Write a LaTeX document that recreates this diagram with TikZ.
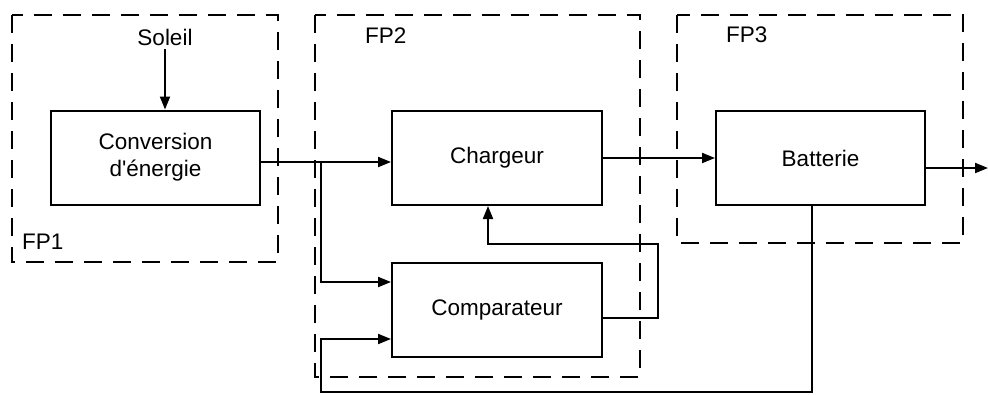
\documentclass[tikz,border=0pt]{standalone}
\usepackage{fontspec}
\setmainfont{Liberation Sans}
\usetikzlibrary{arrows.meta}
\begin{document}
\begin{tikzpicture}[x=1pt,y=-1pt,
  blk/.style={draw,line width=2pt,rectangle,inner sep=0pt,minimum height=94pt,font=\fontsize{22.5}{26}\selectfont},
  grp/.style={draw,line width=2.5pt,dash pattern=on 18pt off 11pt},
  lab/.style={font=\fontsize{22.5}{26}\selectfont,inner sep=0pt},
  wire/.style={line width=2pt},
  arr/.style={wire,-{Triangle[length=13pt,width=10pt]}}]
\useasboundingbox (0,0) rectangle (988,394);
% groups
\draw[grp] (12,15) rectangle (278,262);
\draw[grp] (315,15) rectangle (640,377);
\draw[grp] (677,15) rectangle (963,243);
\node[lab,anchor=west] (fp1) at (22,242) {FP1};
\node[lab,anchor=west] (fp2) at (365,36) {FP2};
\node[lab,anchor=west] (fp3) at (726,35) {FP3};
% blocks
\node[lab] (soleil) at (165,37) {Soleil};
\node[blk,minimum width=209pt,align=center] (conv) at (155.5,157.5) {Conversion\\[1pt]d\textquotesingle énergie};
\node[blk,minimum width=210pt] (charg) at (497,158) {Chargeur};
\node[blk,minimum width=210pt] (comp) at (497,310) {Comparateur};
\node[blk,minimum width=209pt] (batt) at (820.5,158) {Batterie};
% coordinates
\coordinate (j1) at (321,162);
\coordinate (fb) at (658,244);
\coordinate (bl) at (321,392);
\coordinate (bout) at (988,168);
% connectors
\draw[arr] ([yshift=-4pt]soleil.south) -- (soleil.south |- conv.north);
\draw[arr] ([yshift=-4.5pt]conv.east) -- ([yshift=-4pt]charg.west);
\draw[arr] (j1) |- ([yshift=28pt]comp.west);
\draw[arr] ([yshift=-8pt]comp.east) -| (fb) -| ([xshift=-9pt]charg.south);
\draw[arr] (charg.east) -- (batt.west);
\draw[arr] ([yshift=-10pt]batt.east) -- (bout);
\draw[arr] ([xshift=-8.5pt]batt.south) |- (bl) |- ([yshift=-29pt]comp.west);
\end{tikzpicture}
\end{document}
